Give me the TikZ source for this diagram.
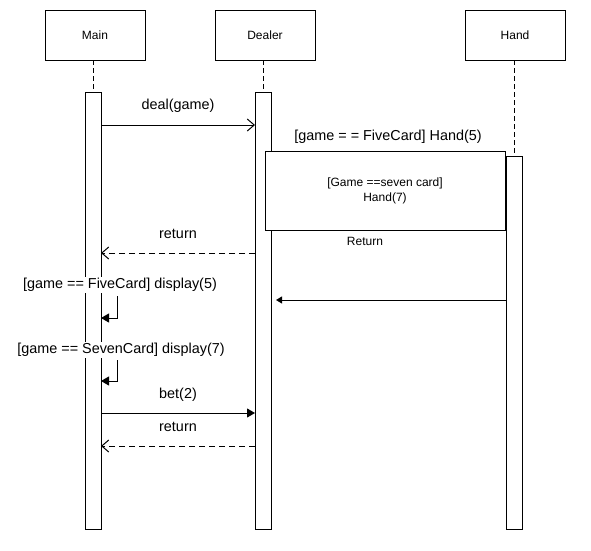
\documentclass[tikz,border=0pt]{standalone}
\usepackage{fontspec}
\setmainfont{Liberation Sans}
\usetikzlibrary{arrows.meta}
\begin{document}
\begin{tikzpicture}[x=1pt,y=-1pt,
  every node/.style={inner sep=0pt, outer sep=0pt},
  obj/.style={draw, line width=1pt, minimum width=100pt, minimum height=50pt, font=\fontsize{12}{14}\selectfont},
  bar/.style={draw, line width=1pt, fill=white, minimum width=16pt},
  life/.style={line width=1pt, dash pattern=on 5pt off 3pt},
  lbl/.style={font=\fontsize{14.4}{16}\selectfont, fill=white, inner sep=1pt},
  slbl/.style={font=\fontsize{12}{15}\selectfont, align=center},
  call/.style={line width=1pt, -{Straight Barb[length=7pt,width=12pt,line width=1pt]}},
  ret/.style={line width=1pt, dash pattern=on 6pt off 4pt, -{Straight Barb[length=7pt,width=12pt,line width=1pt]}},
  fcall/.style={line width=1pt, -{Triangle[length=8pt,width=9pt]}},
  scall/.style={line width=1pt, -{Triangle[length=6pt,width=7pt]}}]
\useasboundingbox (0,0) rectangle (591,550);
% objects
\node[obj] (main) at (95,35) {Main};
\node[obj] (dealer) at (265,35) {Dealer};
\node[obj] (hand) at (515,35) {Hand};
% activation bars
\node[bar, minimum height=437pt] (mainbar) at (93,310.5) {};
\node[bar, minimum height=437pt] (dealerbar) at (263,310.5) {};
\node[bar, minimum height=373pt] (handbar) at (514,342.5) {};
% lifelines
\draw[life] (mainbar.north |- main.south) -- (mainbar.north);
\draw[life] (dealerbar.north |- dealer.south) -- (dealerbar.north);
\draw[life] (handbar.north |- hand.south) -- (handbar.north);
% deal(game)
\draw[call] (mainbar.east |- 0,125) -- (dealerbar.west |- 0,125);
\node[lbl] (l1) at (178,106) {deal(game)};
% guard box
\node[lbl] (l2) at (388,137) {[game = = FiveCard] Hand(5)};
\node[draw, line width=1pt, fill=white, minimum width=240.5pt, minimum height=79pt] (guard) at (385.25,190.5) {};
\node[slbl] (l3) at (385,191) {[Game ==seven card]\\Hand(7)};
\node[font=\fontsize{12}{14}\selectfont] (l4) at (365,241) {Return};
% return 1
\draw[ret] (dealerbar.west |- 0,253) -- (mainbar.east |- 0,253);
\node[lbl] (l5) at (178,234) {return};
% Hand -> Dealer
\coordinate (hd) at (276,300);
\draw[scall] (handbar.west |- hd) -- (hd);
% self calls
\node[lbl] (l6) at (120,285) {[game == FiveCard] display(5)};
\coordinate (s1a) at (117,296);
\coordinate (s1b) at (117,318);
\draw[fcall] (s1a) -- (s1b) -- (mainbar.east |- s1b);
\node[lbl] (l7) at (121,350) {[game == SevenCard] display(7)};
\coordinate (s2a) at (117,360);
\coordinate (s2b) at (117,381);
\draw[fcall] (s2a) -- (s2b) -- (mainbar.east |- s2b);
% bet(2)
\draw[fcall] (mainbar.east |- 0,413) -- (dealerbar.west |- 0,413);
\node[lbl] (l8) at (178,395) {bet(2)};
% return 2
\draw[ret] (dealerbar.west |- 0,446) -- (mainbar.east |- 0,446);
\node[lbl] (l9) at (178,427) {return};
\end{tikzpicture}
\end{document}
